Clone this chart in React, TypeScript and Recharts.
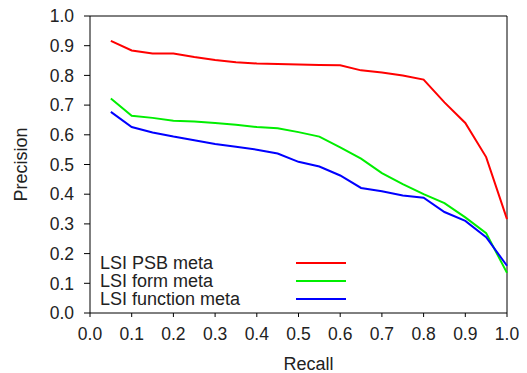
import React from 'react';
import { LineChart, Line, XAxis, YAxis, ReferenceLine } from 'recharts';

const recall = [0.05, 0.1, 0.15, 0.2, 0.25, 0.3, 0.35, 0.4, 0.45, 0.5, 0.55, 0.6, 0.65, 0.7, 0.75, 0.8, 0.85, 0.9, 0.95, 1.0];
const psbMeta = [0.916, 0.884, 0.874, 0.874, 0.862, 0.852, 0.844, 0.840, 0.838, 0.837, 0.835, 0.834, 0.817, 0.810, 0.800, 0.786, 0.709, 0.640, 0.525, 0.316];
const formMeta = [0.722, 0.664, 0.657, 0.647, 0.645, 0.640, 0.634, 0.626, 0.622, 0.609, 0.594, 0.558, 0.520, 0.471, 0.434, 0.400, 0.370, 0.322, 0.269, 0.135];
const functionMeta = [0.677, 0.626, 0.608, 0.594, 0.582, 0.569, 0.560, 0.550, 0.537, 0.509, 0.493, 0.463, 0.421, 0.410, 0.396, 0.388, 0.340, 0.310, 0.255, 0.159];
const ticks = [0, 0.1, 0.2, 0.3, 0.4, 0.5, 0.6, 0.7, 0.8, 0.9, 1.0];

const series = [
  { key: 'psb', name: 'LSI PSB meta', color: '#ff0000' },
  { key: 'form', name: 'LSI form meta', color: '#00ee00' },
  { key: 'func', name: 'LSI function meta', color: '#0000ff' },
];

const data = recall.map((r, i) => ({ recall: r, psb: psbMeta[i], form: formMeta[i], func: functionMeta[i] }));

const font = '"Liberation Sans", Arial, sans-serif';
const textColor = '#222';

// drawn over the plot, lower left
function LegendBox() {
  return (
    <svg width={260} height={60} style={{ position: 'absolute', left: 100, top: 253 }}>
      {series.map((s, i) => (
        <g key={s.key}>
          <text x={0} y={10 + i * 18} dy="0.355em" fontSize={18} fontFamily={font} fill={textColor}>{s.name}</text>
          <line x1={196} x2={246} y1={10 + i * 18} y2={10 + i * 18} stroke={s.color} strokeWidth={2} />
        </g>
      ))}
    </svg>
  );
}

export default function App() {
  const tickStyle = { fontSize: 17.5, fontFamily: font, fill: textColor };
  return (
    <div style={{ position: 'relative', width: 527, height: 373, background: '#fff' }}>
      <style>{'body{margin:0}'}</style>
      <LineChart width={527} height={373} data={data} margin={{ top: 16, right: 20, left: 0, bottom: 0 }}>
        <XAxis
          type="number"
          dataKey="recall"
          domain={[0, 1]}
          ticks={ticks}
          tickFormatter={(v: number) => v.toFixed(1)}
          tick={tickStyle}
          tickSize={4}
          tickMargin={11}
          height={60}
          stroke="#000"
          interval={0}
          label={{ value: 'Recall', position: 'insideBottom', offset: 3, dx: 10, style: { fontSize: 18, fontFamily: font, fill: textColor } }}
        />
        <YAxis
          type="number"
          domain={[0, 1]}
          ticks={ticks}
          tickFormatter={(v: number) => v.toFixed(1)}
          tick={tickStyle}
          tickSize={6}
          tickMargin={10}
          width={90}
          stroke="#000"
          interval={0}
          label={{ value: 'Precision', angle: -90, position: 'insideLeft', offset: 21, style: { fontSize: 18, fontFamily: font, fill: textColor, textAnchor: 'middle' } }}
        />
        <ReferenceLine y={1} stroke="#000" />
        <ReferenceLine x={1} stroke="#000" />
        {series.map(s => (
          <Line key={s.key} type="linear" dataKey={s.key} name={s.name} stroke={s.color} strokeWidth={2} dot={false} isAnimationActive={false} />
        ))}
      </LineChart>
      <LegendBox />
    </div>
  );
}
